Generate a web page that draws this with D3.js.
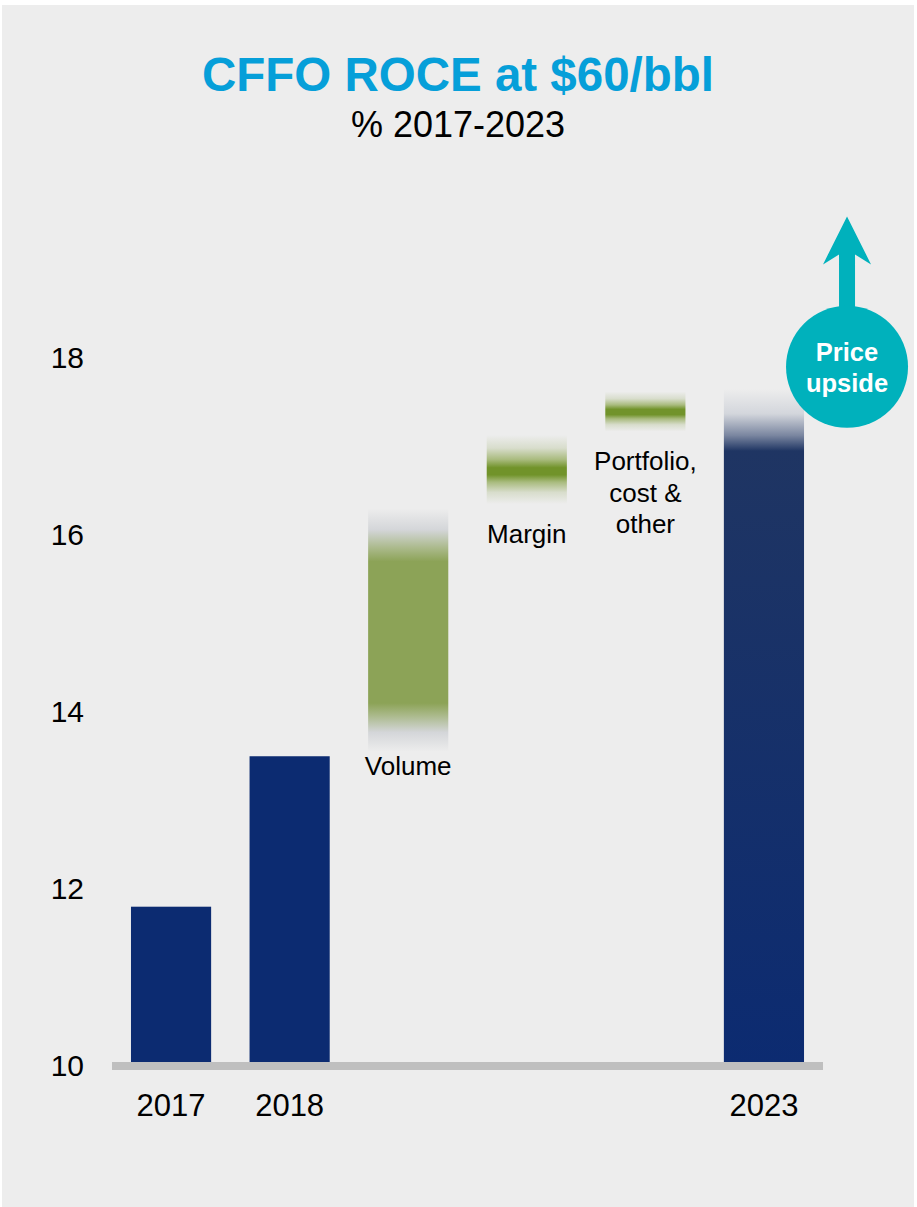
<!DOCTYPE html>
<html>
<head>
<meta charset="utf-8">
<script src="https://cdn.jsdelivr.net/npm/d3@7"></script>
<style>
	body { margin: 0; background: #ffffff; }
	svg { display: block; font-family: "Liberation Sans", Arial, sans-serif; }
</style>
</head>
<body>
<svg id="chart" width="917" height="1207"></svg>
<script>

const WIDTH = 917;
const HEIGHT = 1207;

const BG_COLOR = '#ededed';
const NAVY = '#0c2b71';
const NAVY_TOP = '#1f3563';
const TEAL = '#00b1bc';
const TITLE_BLUE = '#069fd9';

// categories along the x axis
const categories = ["2017", "2018", "Volume", "Margin", "Portfolio", "2023"];
const yearLabels = ["2017", "2018", "2023"];

// solid bars (years)
const barCategories = ["2017", "2018", "2023"];
const barValues = [11.8, 13.5, 16.95];
const barFadeTop = [null, null, 17.65];

// uplift drivers, drawn as blurred green bands
const driverCategories = ["Volume", "Margin", "Portfolio"];
const driverLabels = [["Volume"], ["Margin"], ["Portfolio,", "cost &", "other"]];
const driverLow = [14.1, 16.68, 17.36];
const driverHigh = [15.7, 16.76, 17.42];
const driverFadeLow = [13.55, 16.35, 17.17];
const driverFadeHigh = [16.3, 17.13, 17.62];

const yTicks = [10, 12, 14, 16, 18];
const yDomain = [10, 18];

const title = "CFFO ROCE at $60/bbl";
const subtitle = "% 2017-2023";
const upsideLines = ["Price", "upside"];

// label baseline distance below the faded end of each driver band (px)
const LABEL_OFFSETS = [23, 39, 39];

const svg = d3.select('#chart');

svg.append('rect')
	.attr('x', 2).attr('y', 5)
	.attr('width', WIDTH - 5).attr('height', HEIGHT - 5)
	.attr('fill', BG_COLOR);

const x = d3.scaleBand()
	.domain(categories)
	.range([112, 823])
	.paddingInner(0.324)
	.paddingOuter(0.16);

const y = d3.scaleLinear()
	.domain(yDomain)
	.range([1066, 358]);

const defs = svg.append('defs');

/*
Titles
*/
svg.append('text')
	.attr('x', 458).attr('y', 91)
	.attr('text-anchor', 'middle')
	.attr('font-size', 47.5)
	.attr('font-weight', 'bold')
	.attr('fill', TITLE_BLUE)
	.text(title);

svg.append('text')
	.attr('x', 458).attr('y', 137)
	.attr('text-anchor', 'middle')
	.attr('font-size', 36)
	.attr('fill', '#000')
	.text(subtitle);

/*
Y axis, labels only
*/
const yAxis = svg.append('g')
	.attr('transform', 'translate(90,0)')
	.call(d3.axisLeft(y).tickValues(yTicks).tickSize(0).tickPadding(6));
yAxis.select('.domain').remove();
yAxis.selectAll('text')
	.attr('font-size', 30)
	.attr('font-family', '"Liberation Sans", Arial, sans-serif')
	.attr('fill', '#000');

/*
Year bars. 2023 gets a vertical gradient with a faded top.
*/
function makeBarGradient(i){
	let id = 'bar-grad-' + i;
	let top = barFadeTop[i] != null ? barFadeTop[i] : barValues[i];
	let y1 = y(top);
	let y2 = y(yDomain[0]);
	let solidOff = (y(barValues[i]) - y1) / (y2 - y1);
	let g = defs.append('linearGradient')
		.attr('id', id)
		.attr('gradientUnits', 'userSpaceOnUse')
		.attr('x1', 0).attr('x2', 0)
		.attr('y1', y1).attr('y2', y2);
	if(barFadeTop[i] != null){
		g.append('stop').attr('offset', 0).attr('stop-color', BG_COLOR);
		g.append('stop').attr('offset', solidOff * 0.4).attr('stop-color', '#d3d6dc');
		g.append('stop').attr('offset', solidOff * 0.75).attr('stop-color', '#7a86a0');
		g.append('stop').attr('offset', solidOff).attr('stop-color', NAVY_TOP);
		g.append('stop').attr('offset', 1).attr('stop-color', NAVY);
	} else {
		g.append('stop').attr('offset', 0).attr('stop-color', NAVY);
		g.append('stop').attr('offset', 1).attr('stop-color', NAVY);
	}
	return 'url(#' + id + ')';
}

svg.append('g')
	.selectAll('rect')
	.data(barCategories)
	.join('rect')
	.attr('x', d => x(d))
	.attr('width', x.bandwidth())
	.attr('y', (d, i) => y(barFadeTop[i] != null ? barFadeTop[i] : barValues[i]))
	.attr('height', (d, i) => y(yDomain[0]) - y(barFadeTop[i] != null ? barFadeTop[i] : barValues[i]))
	.attr('fill', (d, i) => makeBarGradient(i));

/*
Driver bands: solid core from low to high, fading out to fadeLow / fadeHigh.
Thin cores (margin, portfolio) read as a darker line.
*/
function makeDriverGradient(i){
	let id = 'drv-grad-' + i;
	let y1 = y(driverFadeHigh[i]);
	let y2 = y(driverFadeLow[i]);
	let span = y2 - y1;
	let a = (y(driverHigh[i]) - y1) / span;
	let b = (y(driverLow[i]) - y1) / span;
	let thin = (b - a) < 0.3;
	let core = thin ? '#71932a' : '#8ca357';
	let mid = thin ? '#a9bb7e' : '#aab98a';
	let pale = thin ? '#d8ddcc' : '#d4d6d9';
	let g = defs.append('linearGradient')
		.attr('id', id)
		.attr('gradientUnits', 'userSpaceOnUse')
		.attr('x1', 0).attr('x2', 0)
		.attr('y1', y1).attr('y2', y2);
	let stops = [
		[0, BG_COLOR],
		[a * 0.4, pale],
		[a * 0.75, mid],
		[a, core],
		[b, core],
		[b + (1 - b) * 0.25, mid],
		[b + (1 - b) * 0.6, pale],
		[1, BG_COLOR]
	];
	stops.forEach(s => g.append('stop').attr('offset', s[0]).attr('stop-color', s[1]));
	return 'url(#' + id + ')';
}

svg.append('g')
	.selectAll('rect')
	.data(driverCategories)
	.join('rect')
	.attr('x', d => x(d))
	.attr('width', x.bandwidth())
	.attr('y', (d, i) => y(driverFadeHigh[i]))
	.attr('height', (d, i) => y(driverFadeLow[i]) - y(driverFadeHigh[i]))
	.attr('fill', (d, i) => makeDriverGradient(i));

// driver labels under each band
const labelG = svg.append('g');
driverCategories.forEach((c, i) => {
	let t = labelG.append('text')
		.attr('text-anchor', 'middle')
		.attr('font-size', 26)
		.attr('fill', '#000');
	let cx = x(c) + x.bandwidth() / 2;
	let baseY = y(driverFadeLow[i]) + LABEL_OFFSETS[i];
	driverLabels[i].forEach((line, j) => {
		t.append('tspan')
			.attr('x', cx)
			.attr('y', baseY + j * 31.5)
			.text(line);
	});
});

/*
Baseline and year labels
*/
svg.append('rect')
	.attr('x', x.range()[0])
	.attr('width', x.range()[1] - x.range()[0])
	.attr('y', y(yDomain[0]) - 4)
	.attr('height', 8)
	.attr('fill', '#bfbfbf');

const xAxis = svg.append('g')
	.attr('transform', 'translate(0,' + y(yDomain[0]) + ')')
	.call(d3.axisBottom(x).tickValues(yearLabels).tickSize(0).tickPadding(28));
xAxis.select('.domain').remove();
xAxis.selectAll('text')
	.attr('font-size', 31)
	.attr('font-family', '"Liberation Sans", Arial, sans-serif')
	.attr('fill', '#000');

/*
Price upside marker, anchored right of the 2023 bar
*/
const upX = x("2023") + x.bandwidth() + 43;
const upY = y(17.9);
const upR = 61;
const tipY = y(19.6);

svg.append('path')
	.attr('d', [
		'M', upX - 8, upY - upR + 6,
		'L', upX - 8, tipY + 38,
		'L', upX - 24, tipY + 48,
		'L', upX, tipY,
		'L', upX + 24, tipY + 48,
		'L', upX + 8, tipY + 38,
		'L', upX + 8, upY - upR + 6,
		'Z'
	].join(' '))
	.attr('fill', TEAL);

svg.append('circle')
	.attr('cx', upX).attr('cy', upY).attr('r', upR)
	.attr('fill', TEAL);

svg.append('text')
	.attr('text-anchor', 'middle')
	.attr('font-size', 25.5)
	.attr('font-weight', 'bold')
	.attr('fill', '#fff')
	.selectAll('tspan')
	.data(upsideLines)
	.join('tspan')
	.attr('x', upX)
	.attr('y', (d, i) => upY - 6 + i * 31)
	.text(d => d);

</script>
</body>
</html>
